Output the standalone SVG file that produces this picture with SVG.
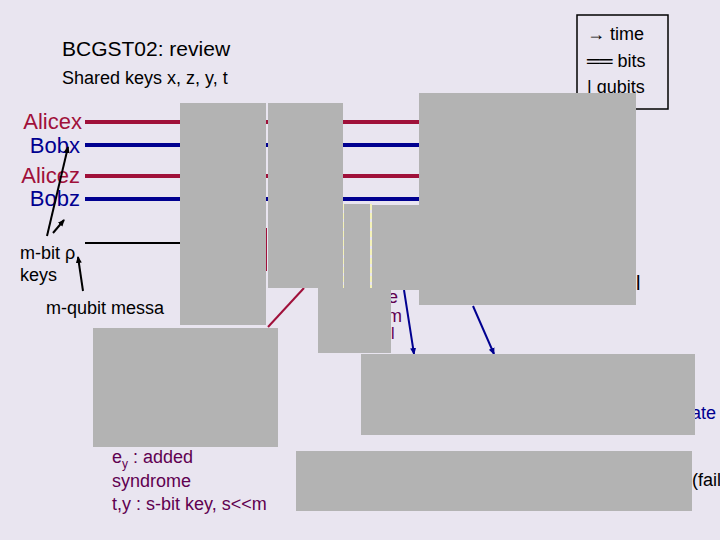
<svg xmlns="http://www.w3.org/2000/svg" width="720" height="540" viewBox="0 0 720 540">
<defs>
<style>
text{font-family:"Liberation Sans",Arial,sans-serif}
.g{fill:#b3b3b3}
.r{stroke:#a0103a;stroke-width:4}
.b{stroke:#000090;stroke-width:4}
</style>
<marker id="ak" markerWidth="8" markerHeight="8" refX="6" refY="4" orient="auto" markerUnits="userSpaceOnUse"><path d="M0,1L7,4L0,7z" fill="#000"/></marker>
<marker id="ab" markerWidth="8" markerHeight="8" refX="6" refY="4" orient="auto" markerUnits="userSpaceOnUse"><path d="M0,1L7,4L0,7z" fill="#000090"/></marker>
</defs>
<rect width="720" height="540" fill="#e9e5f0"/>
<g id="title">
<text x="62" y="56" font-size="21">BCGST02: review</text>
<text x="62" y="84" font-size="18">Shared keys x, z, y, t</text>
</g>
<g id="legend">
<rect x="577" y="15" width="91" height="94" fill="none" stroke="#000" stroke-width="1.5"/>
<text x="587" y="40" font-size="18">→ time</text>
<text x="587" y="67" font-size="18">══ bits</text>
<text x="587" y="93" font-size="18">| qubits</text>
</g>
<g id="labels" font-size="22">
<text x="82" y="129" text-anchor="end" fill="#a0103a">Alicex</text>
<text x="80" y="153" text-anchor="end" fill="#000090">Bobx</text>
<text x="80" y="183" text-anchor="end" fill="#a0103a">Alicez</text>
<text x="80" y="206" text-anchor="end" fill="#000090">Bobz</text>
<text x="20" y="259" font-size="18">m-bit ρ</text>
<text x="20" y="281" font-size="18">keys</text>
<text x="46" y="314" font-size="18">m-qubit messa</text>
<text x="388" y="303" font-size="18" fill="#600050">e</text>
<text x="387" y="322" font-size="18" fill="#600050">m</text>
<text x="391" y="339" font-size="16" fill="#600050">l</text>
<text x="636" y="290" font-size="20">l</text>
<text x="691" y="419" font-size="18" fill="#000090">ate</text>
<text x="692" y="486" font-size="18">(fail</text>
<text x="112" y="463" font-size="18" fill="#600050">e<tspan font-size="12" dy="5">y</tspan><tspan dy="-5"> : added</tspan></text>
<text x="112" y="487" font-size="18" fill="#600050">syndrome</text>
<text x="112" y="510" font-size="18" fill="#600050">t,y : s-bit key, s&lt;&lt;m</text>
</g>
<g id="connectors">
<line class="r" x1="85" y1="122" x2="420" y2="122"/>
<line class="b" x1="85" y1="145" x2="420" y2="145"/>
<line class="r" x1="85" y1="176" x2="420" y2="176"/>
<line class="b" x1="85" y1="199" x2="420" y2="199"/>
<line x1="85" y1="243" x2="180" y2="243" stroke="#000" stroke-width="2"/>
<line x1="266" y1="228" x2="266" y2="271" stroke="#a0103a" stroke-width="2"/>
<line x1="268" y1="327" x2="304" y2="288" stroke="#a0103a" stroke-width="2"/>
<line x1="343" y1="204" x2="343" y2="288" stroke="#ffff80" stroke-width="1" stroke-dasharray="6,3"/>
<line x1="371" y1="204" x2="371" y2="288" stroke="#ffff80" stroke-width="1" stroke-dasharray="6,3"/>
<line x1="47" y1="236" x2="68" y2="147" stroke="#000" stroke-width="2" marker-end="url(#ak)"/>
<line x1="53" y1="233" x2="64" y2="220" stroke="#000" stroke-width="2" marker-end="url(#ak)"/>
<line x1="83" y1="291" x2="78" y2="257" stroke="#000" stroke-width="2" marker-end="url(#ak)"/>
<line x1="404" y1="290" x2="414" y2="354" stroke="#000090" stroke-width="2" marker-end="url(#ab)"/>
<line x1="473" y1="306" x2="494" y2="354" stroke="#000090" stroke-width="2" marker-end="url(#ab)"/>
</g>
<g id="covers">
<rect class="g" x="180" y="103" width="86" height="222"/>
<rect class="g" x="268" y="103" width="75" height="185"/>
<rect class="g" x="344" y="204" width="26" height="84"/>
<rect class="g" x="372" y="205" width="47" height="85"/>
<rect class="g" x="419" y="93" width="217" height="212"/>
<rect class="g" x="318" y="288" width="73" height="65"/>
<rect class="g" x="93" y="328" width="185" height="119"/>
<rect class="g" x="361" y="354" width="334" height="81"/>
<rect class="g" x="296" y="451" width="396" height="60"/>
</g>
</svg>
